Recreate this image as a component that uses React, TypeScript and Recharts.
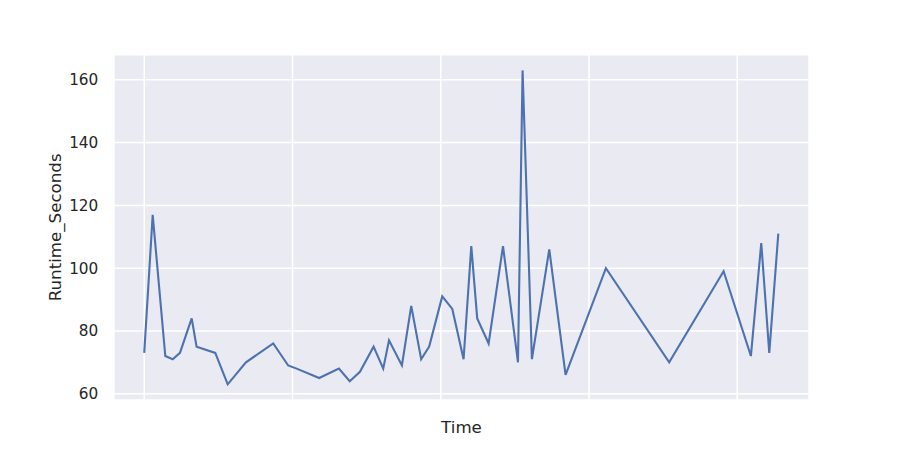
import React from "react";
import { LineChart, Line, XAxis, YAxis, CartesianGrid } from "recharts";

const timeValues = [
  0, 5.7, 14.2, 19.2, 24.1, 32.0, 35.3, 47.9, 56.3, 68.6, 87.0, 97.1, 102.8,
  118.0, 131.3, 138.6, 145.5, 154.7, 161.2, 165.1, 173.8, 180.1, 186.8, 192.2,
  201.0, 207.8, 215.4, 220.6, 224.6, 232.3, 242.0, 252.1, 255.2, 261.5, 273.2,
  284.2, 311.4, 354.1, 390.8, 409.2, 416.2, 421.6, 427.7,
];
const runtimeValues = [
  73, 117, 72, 71, 73, 84, 75, 73, 63, 70, 76, 69, 68,
  65, 68, 64, 67, 75, 68, 77, 69, 88, 71, 75,
  91, 87, 71, 107, 84, 76, 107, 70, 163, 71, 106,
  66, 100, 70, 99, 72, 108, 73, 111,
];
const xTicks = [0, 100, 200, 300, 400];
const yTicks = [60, 80, 100, 120, 140, 160];

const data = timeValues.map((t, i) => ({ time: t, runtime: runtimeValues[i] }));

const FONT = "DejaVu Sans";
const TEXT = "#262626";

export default function App() {
  return (
    <div style={{ position: "absolute", left: 0, top: 0, width: 900, height: 450, background: "#fff" }}>
      <LineChart
        width={900}
        height={450}
        data={data}
        margin={{ top: 54.7, right: 91, bottom: 0, left: 0 }}
      >
        <CartesianGrid
          fill="#EAEAF2"
          stroke="#ffffff"
          strokeWidth={1.5}
          horizontal
          vertical
        />
        <XAxis
          dataKey="time"
          type="number"
          domain={[-20.4, 448.4]}
          ticks={xTicks}
          tick={() => <g />}
          tickLine={false}
          axisLine={false}
          height={50}
          label={{
            content: (props: any) => {
              const vb = props.viewBox || {};
              return (
                <text
                  x={vb.x + vb.width / 2}
                  y={vb.y + 33.3}
                  textAnchor="middle"
                  fontFamily={FONT}
                  fontSize={16.67}
                  fill={TEXT}
                >
                  Time
                </text>
              );
            },
          }}
        />
        <YAxis
          type="number"
          domain={[58, 168]}
          ticks={yTicks}
          width={114}
          tickLine={false}
          axisLine={false}
          tickSize={0}
          tickMargin={15.7}
          tick={{ fontFamily: FONT, fontSize: 15.28, fill: TEXT }}
          label={{
            content: (props: any) => {
              const vb = props.viewBox || {};
              const cx = 61.5;
              const cy = vb.y + vb.height / 2;
              return (
                <text
                  x={cx}
                  y={cy}
                  transform={`rotate(-90 ${cx} ${cy})`}
                  textAnchor="middle"
                  fontFamily={FONT}
                  fontSize={16.67}
                  fill={TEXT}
                >
                  Runtime_Seconds
                </text>
              );
            },
          }}
        />
        <Line
          type="linear"
          dataKey="runtime"
          stroke="#4C72B0"
          strokeWidth={2.1}
          dot={false}
          activeDot={false}
          isAnimationActive={false}
        />
      </LineChart>
    </div>
  );
}
